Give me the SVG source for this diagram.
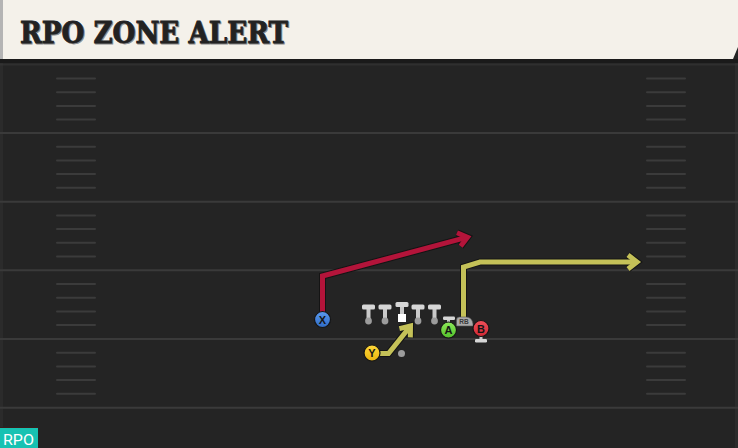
<svg xmlns="http://www.w3.org/2000/svg" width="738" height="448" viewBox="0 0 738 448">
<style>
.yard{stroke:#3a3a3a;stroke-width:2}
.hash{stroke:#3b3b3b;stroke-width:2;stroke-linecap:round}
.outline{fill:none;stroke:#141414;stroke-width:7;stroke-linejoin:miter}
.red{fill:none;stroke:#b3143a;stroke-width:5;stroke-linejoin:miter}
.yel{fill:none;stroke:#c4c158;stroke-width:5;stroke-linejoin:miter}
.lbl{font-family:"Liberation Sans",Arial,sans-serif;font-weight:bold;font-size:11px;fill:#151515;text-anchor:middle}
.pc{stroke:#151515;stroke-width:1.2}
.ttl{font-family:"DejaVu Serif Condensed","DejaVu Serif",serif;font-weight:bold;font-size:30px}
</style>
<defs>
<marker id="mDark" markerUnits="userSpaceOnUse" orient="auto" refX="0" refY="0" markerWidth="30" markerHeight="30" overflow="visible">
<path d="M-9,-7 L0,0 L-9,7" fill="none" stroke="#141414" stroke-width="7"/>
</marker>
<marker id="mRed" markerUnits="userSpaceOnUse" orient="auto" refX="0" refY="0" markerWidth="30" markerHeight="30" overflow="visible">
<path d="M-9,-7 L0,0 L-9,7" fill="none" stroke="#b3143a" stroke-width="5"/>
</marker>
<marker id="mYel" markerUnits="userSpaceOnUse" orient="auto" refX="0" refY="0" markerWidth="30" markerHeight="30" overflow="visible">
<path d="M-9,-7 L0,0 L-9,7" fill="none" stroke="#c4c158" stroke-width="5"/>
</marker>
<g id="lm">
<rect x="-2" y="0" width="4" height="12" fill="#c9c9c9"/>
<rect x="-6.5" y="-2.5" width="13" height="5" rx="1.5" fill="#d6d6d6"/>
<circle cx="0" cy="14" r="3.4" fill="#9c9c9c"/>
</g>
<linearGradient id="gB" x1="0" y1="0" x2="0" y2="1"><stop offset="0" stop-color="#5b9af0"/><stop offset="1" stop-color="#2f6bc4"/></linearGradient>
<linearGradient id="gG" x1="0" y1="0" x2="0" y2="1"><stop offset="0" stop-color="#8ee85a"/><stop offset="1" stop-color="#52c12a"/></linearGradient>
<linearGradient id="gR" x1="0" y1="0" x2="0" y2="1"><stop offset="0" stop-color="#f0505a"/><stop offset="1" stop-color="#d02834"/></linearGradient>
<linearGradient id="gY" x1="0" y1="0" x2="0" y2="1"><stop offset="0" stop-color="#ffd83a"/><stop offset="1" stop-color="#e8b410"/></linearGradient>
</defs>

<!-- field -->
<rect x="0" y="0" width="738" height="448" fill="#242424"/>
<rect x="0" y="59" width="3" height="389" fill="#2b2b2b"/>
<rect x="735" y="59" width="3" height="389" fill="#2c2c2c"/>
<rect x="0" y="59" width="738" height="4" fill="#1a1a1a"/>
<line class="yard" x1="0" y1="64.5" x2="738" y2="64.5" stroke-opacity="0.5"/>
<g id="yardlines">
<line class="yard" x1="0" y1="133" x2="738" y2="133"/>
<line class="yard" x1="0" y1="201.7" x2="738" y2="201.7"/>
<line class="yard" x1="0" y1="270.3" x2="738" y2="270.3"/>
<line class="yard" x1="0" y1="339" x2="738" y2="339"/>
<line class="yard" x1="0" y1="407.7" x2="738" y2="407.7"/>
</g>
<g id="hashes">
<path class="hash" d="M57,78.5H95M57,92.2H95M57,105.9H95M57,119.6H95M57,146.7H95M57,160.4H95M57,174.1H95M57,187.8H95M57,215.4H95M57,229.1H95M57,242.8H95M57,256.5H95M57,284H95M57,297.7H95M57,311.4H95M57,325.1H95M57,352.7H95M57,366.4H95M57,380.1H95M57,393.8H95"/>
<path class="hash" d="M647,78.5H685M647,92.2H685M647,105.9H685M647,119.6H685M647,146.7H685M647,160.4H685M647,174.1H685M647,187.8H685M647,215.4H685M647,229.1H685M647,242.8H685M647,256.5H685M647,284H685M647,297.7H685M647,311.4H685M647,325.1H685M647,352.7H685M647,366.4H685M647,380.1H685M647,393.8H685"/>
</g>

<!-- header -->
<g id="header">
<polygon points="3,0 738,0 738,47 733,59 3,59" fill="#f4f1ea"/>
<rect x="0" y="0" width="3" height="59" fill="#b4b4b4"/>
<text class="ttl" x="21" y="44" fill="#8a8a8a" stroke="#8a8a8a" stroke-width="0.8" textLength="268" lengthAdjust="spacingAndGlyphs">RPO ZONE ALERT</text>
<text class="ttl" x="20" y="43" fill="#222222" stroke="#222222" stroke-width="0.8" textLength="268" lengthAdjust="spacingAndGlyphs">RPO ZONE ALERT</text>
</g>

<!-- connectors -->
<g id="connectors">
<path class="outline" d="M322.5,312 V276 L467.5,237.2" marker-end="url(#mDark)"/>
<path class="red" d="M322.5,312 V276 L467.5,237.2" marker-end="url(#mRed)"/>
<path class="outline" d="M463.5,318 V267 L480,262 H637" marker-end="url(#mDark)"/>
<path class="yel" d="M463.5,318 V267 L480,262 H637" marker-end="url(#mYel)"/>
<path class="outline" d="M379,353.5 H388.5 L410.5,326" marker-end="url(#mDark)"/>
<path class="yel" d="M379,353.5 H388.5 L410.5,326" marker-end="url(#mYel)"/>
</g>

<!-- offensive line -->
<g id="oline">
<use href="#lm" x="368.5" y="307"/>
<use href="#lm" x="385" y="307"/>
<g id="center">
<rect x="400" y="304" width="4" height="11" fill="#c9c9c9"/>
<rect x="395.5" y="302" width="13" height="5" rx="1.5" fill="#d6d6d6"/>
<rect x="398" y="314" width="8" height="8" fill="#ffffff"/>
</g>
<use href="#lm" x="418" y="307"/>
<use href="#lm" x="434.5" y="307"/>
</g>

<g id="nodeX">
<circle class="pc" cx="322.5" cy="319.5" r="8" fill="url(#gB)"/>
<text class="lbl" x="322.5" y="323.5">X</text>
</g>
<g id="nodeY">
<circle cx="401.5" cy="353.5" r="3.5" fill="#9c9c9c"/>
<circle class="pc" cx="372" cy="353" r="8" fill="url(#gY)"/>
<text class="lbl" x="372" y="357">Y</text>
</g>
<g id="nodeA">
<rect x="447" y="319" width="3" height="4" fill="#c9c9c9"/>
<rect x="443" y="316.5" width="12" height="3.5" rx="1.2" fill="#d6d6d6"/>
<circle class="pc" cx="448.5" cy="330" r="8" fill="url(#gG)"/>
<text class="lbl" x="448.5" y="334">A</text>
</g>
<g id="nodeRB">
<path d="M456.5,326 V320 Q456.5,317 459.5,317 H466 Q472,317 473,324 L473,326 Z" fill="#a9a9a9" stroke="#555" stroke-width="0.6"/>
<text x="464" y="324.3" font-family="'Liberation Sans',Arial,sans-serif" font-size="6.5" font-weight="bold" fill="#3a3a3a" text-anchor="middle">RB</text>
</g>
<g id="nodeB">
<rect x="479.5" y="335" width="3" height="5" fill="#c9c9c9"/>
<rect x="475" y="339" width="12" height="3.5" rx="1.2" fill="#d6d6d6"/>
<circle class="pc" cx="481" cy="328.5" r="8" fill="url(#gR)"/>
<text class="lbl" x="481" y="332.5">B</text>
</g>

<!-- badge -->
<g id="badge">
<rect x="0" y="427" width="38" height="21" fill="#17c2b2"/>
<rect x="0" y="427" width="38" height="1" fill="#3a1c1c"/>
<text x="3" y="444.5" font-family="'Roboto','Liberation Sans',Arial,sans-serif" font-size="15.5" fill="#ffffff" textLength="31" lengthAdjust="spacingAndGlyphs">RPO</text>
</g>
</svg>
